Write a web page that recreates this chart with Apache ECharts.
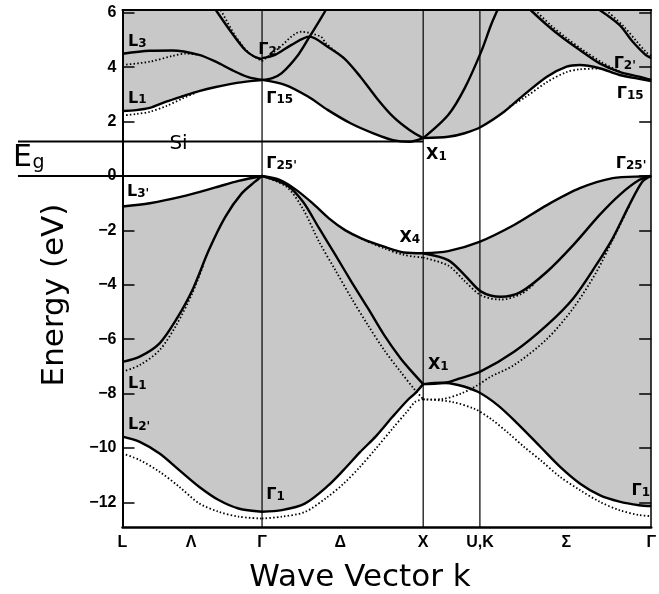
<!DOCTYPE html>
<html><head><meta charset="utf-8">
<script src="https://cdn.jsdelivr.net/npm/echarts@6/dist/echarts.min.js"></script>
<style>html,body{margin:0;padding:0;background:#fff}#c{width:659px;height:594px}</style>
</head><body><div id="c"></div>
<script>
// ---- k-path (units of 2π/a) and axis labels ----
const kPoints = [0, 0.866, 1.866, 2.218, 3.281];            // L, Γ, X, U/K, Γ
const kLabelVals = [0, 0.426, 0.866, 1.351, 1.866, 2.218, 2.754, 3.281];
const kLabelText = ['L', 'Λ', 'Γ', 'Δ', 'X', 'U,K', 'Σ', 'Γ'];
const yTicks = [-12, -10, -8, -6, -4, -2, 0, 2, 4, 6];
const yMin = -12.9, yMax = 6.1;
const eGap = 1.27;

// ---- conduction bands, solid ----
const condLG_L1 = [[0,2.39],[0.085,2.42],[0.169,2.5],[0.271,2.73],[0.373,2.93],[0.475,3.12],[0.579,3.27],[0.720,3.43],[0.866,3.53]];
const condLG_L3 = [[0,4.49],[0.169,4.6],[0.309,4.61],[0.475,4.45],[0.579,4.2],[0.677,3.9],[0.781,3.63],[0.866,3.53]];
const condLG_G2 = [[0.579,6.1],[0.679,5.25],[0.761,4.63],[0.82,4.38],[0.866,4.29]];
const condGX_D2 = [[0.866,4.33],[0.947,4.45],[1.049,4.82],[1.161,5.12],[1.273,4.75],[1.374,4.33],[1.476,3.65],[1.578,2.86],[1.679,2.18],[1.781,1.69],[1.866,1.39]];
const condGX_D5 = [[0.866,3.53],[0.93,3.6],[0.988,3.78],[1.090,4.45],[1.161,5.12],[1.212,5.61],[1.262,6.1]];
const condGX_D1 = [[0.866,3.53],[1.008,3.35],[1.151,2.92],[1.273,2.43],[1.415,1.94],[1.557,1.57],[1.679,1.32],[1.781,1.26],[1.866,1.39]];
const condXG_steep = [[1.866,1.39],[2.021,2.24],[2.123,3.22],[2.226,4.57],[2.287,5.55],[2.327,6.1]];
const condXG_low = [[1.866,1.39],[2.021,1.44],[2.123,1.57],[2.226,1.81],[2.368,2.36],[2.491,2.98],[2.634,3.65],[2.756,4.02],[2.838,4.08],[2.961,3.96],[3.084,3.71],[3.206,3.57],[3.281,3.49]];
const condXG_top1 = [[2.532,6.1],[2.634,5.55],[2.736,5.06],[2.838,4.63],[2.961,4.14],[3.084,3.83],[3.206,3.65],[3.281,3.53]];
const condXG_top2 = [[2.961,6.1],[3.084,5.55],[3.165,4.94],[3.246,4.45],[3.281,4.33]];
// ---- conduction bands, dotted ----
const condLG_L1_dot = [[0,2.22],[0.085,2.28],[0.169,2.36],[0.271,2.57],[0.373,2.85],[0.45,3.05]];
const condLG_L3_dot = [[0,4.08],[0.169,4.2],[0.309,4.41],[0.393,4.5],[0.475,4.45]];
const condLG_G2_dot = [[0.61,6.1],[0.695,5.2],[0.78,4.55],[0.866,4.22]];
const condGX_D2_dot = [[0.866,4.22],[0.968,4.69],[1.109,5.3],[1.231,5.12],[1.262,4.88],[1.374,4.33]];
const condXG_low_dot = [[2.40,2.55],[2.491,2.86],[2.634,3.45],[2.756,3.82],[2.838,3.92],[2.961,3.95]];
const condXG_top1_dot = [[2.56,6.1],[2.66,5.53],[2.76,5.05],[2.86,4.62],[2.98,4.16],[3.084,3.85]];
const condXG_top2_dot = [[3.00,6.1],[3.11,5.5],[3.19,4.95],[3.25,4.55],[3.281,4.42]];

// ---- valence bands, solid ----
const valLG_L3 = [[0,-1.12],[0.169,-1.0],[0.373,-0.75],[0.577,-0.42],[0.720,-0.18],[0.866,0]];
const valLG_L1 = [[0,-6.83],[0.107,-6.64],[0.230,-6.15],[0.332,-5.29],[0.434,-4.19],[0.536,-2.72],[0.638,-1.5],[0.740,-0.64],[0.822,-0.21],[0.866,0]];
const valLG_L2 = [[0,-9.58],[0.107,-9.77],[0.230,-10.2],[0.352,-10.81],[0.475,-11.42],[0.597,-11.91],[0.720,-12.22],[0.866,-12.34]];
const valGX_top = [[0.866,0],[0.978,-0.15],[1.078,-0.51],[1.179,-1.0],[1.281,-1.56],[1.381,-1.99],[1.482,-2.29],[1.624,-2.6],[1.745,-2.81],[1.866,-2.84]];
const valGX_D2 = [[0.866,0],[1.018,-0.33],[1.119,-0.94],[1.220,-1.92],[1.321,-2.9],[1.422,-3.9],[1.523,-4.86],[1.624,-5.85],[1.725,-6.7],[1.797,-7.2],[1.866,-7.65]];
const valGX_low = [[0.866,-12.34],[0.989,-12.28],[1.131,-12.04],[1.272,-11.4],[1.373,-10.8],[1.474,-10.15],[1.575,-9.55],[1.676,-8.85],[1.767,-8.25],[1.817,-7.98],[1.866,-7.65]];
const valXG_top = [[1.866,-2.84],[2.021,-2.76],[2.215,-2.42],[2.430,-1.8],[2.634,-1.07],[2.838,-0.45],[3.042,-0.08],[3.246,-0.01],[3.281,0]];
const valXG_2 = [[1.866,-2.84],[2.021,-3.09],[2.123,-3.64],[2.226,-4.25],[2.348,-4.44],[2.470,-4.27],[2.634,-3.52],[2.797,-2.54],[2.961,-1.43],[3.084,-0.70],[3.206,-0.15],[3.281,0]];
const valXG_3 = [[1.866,-7.65],[1.95,-7.63],[2.021,-7.58],[2.083,-7.46],[2.226,-7.17],[2.430,-6.46],[2.634,-5.48],[2.797,-4.5],[2.940,-3.27],[3.042,-2.29],[3.145,-1.07],[3.226,-0.21],[3.281,0]];
const valXG_low = [[1.866,-7.65],[1.981,-7.6],[2.083,-7.68],[2.205,-7.93],[2.328,-8.42],[2.450,-9.09],[2.593,-9.95],[2.716,-10.69],[2.838,-11.3],[2.961,-11.73],[3.084,-11.97],[3.206,-12.1],[3.281,-12.13]];
// ---- valence bands, dotted ----
const valLG_L1_dot = [[0,-7.19],[0.107,-6.95],[0.230,-6.4],[0.332,-5.5],[0.434,-4.3],[0.5,-3.3]];
const valLG_L2_dot = [[0,-10.2],[0.107,-10.44],[0.230,-10.87],[0.352,-11.42],[0.475,-12.03],[0.597,-12.34],[0.720,-12.52],[0.866,-12.59]];
const valGX_top_dot = [[1.482,-2.31],[1.624,-2.66],[1.745,-2.9],[1.866,-3.0]];
const valGX_D2_dot = [[0.866,0],[1.018,-0.4],[1.119,-1.2],[1.220,-2.42],[1.321,-3.46],[1.422,-4.5],[1.523,-5.48],[1.624,-6.4],[1.725,-7.19],[1.806,-7.8],[1.866,-8.2]];
const valGX_low_dot = [[0.866,-12.59],[0.989,-12.52],[1.131,-12.35],[1.272,-11.8],[1.373,-11.3],[1.474,-10.69],[1.575,-10.0],[1.676,-9.28],[1.767,-8.65],[1.817,-8.3],[1.866,-8.2]];
const valXG_2_dot = [[1.866,-3.0],[2.021,-3.29],[2.123,-3.86],[2.226,-4.39],[2.348,-4.54],[2.470,-4.35],[2.56,-3.95]];
const valXG_3_dot = [[1.866,-8.22],[1.98,-8.2],[2.10,-8.0],[2.20,-7.7],[2.284,-7.38],[2.430,-6.95],[2.634,-5.99],[2.797,-4.86],[2.940,-3.54],[3.042,-2.35],[3.145,-1.1]];
const valXG_low_dot = [[1.866,-8.2],[2.042,-8.3],[2.185,-8.56],[2.287,-8.93],[2.389,-9.42],[2.491,-9.95],[2.593,-10.44],[2.716,-11.06],[2.838,-11.54],[2.961,-11.97],[3.084,-12.28],[3.206,-12.46],[3.281,-12.5]];

// ---- point-label annotations (data coords) ----
const annoK = [0.034, 0.034, 0.843, 0.892, 0.892, 0.028, 1.884, 3.048, 3.067, 3.061, 1.719, 1.896, 0.034, 0.034, 0.892, 3.159];
const annoE = [4.96, 2.89, 4.67, 2.89, 0.50, -0.55, 0.81, 4.17, 3.07, 0.50, -2.23, -6.91, -7.61, -9.12, -11.69, -11.54];
const annoBase = ['L','L','Γ','Γ','Γ','L','X','Γ','Γ','Γ','X','X','L','L','Γ','Γ'];
const annoSub = ['3','1',"2'",'15',"25'","3'",'1',"2'",'15',"25'",'4','1','1',"2'",'1','1'];
const siLabel = {k: 0.291, e: 1.19, text: 'Si'};

// ---- styling ----
const GRAY = '#c8c8c8';
const INK = '#000';
const SM = 0.3;
const FONT = 'DejaVu Sans';

const series = [];
function fill(data, color, origin, z) {
  series.push({type: 'line', data, smooth: SM, symbol: 'none', silent: true,
    lineStyle: {width: 0}, areaStyle: {color, opacity: 1, origin}, z});
}
[valLG_L3, valGX_top, valXG_top].forEach(d => fill(d, GRAY, 'start', 1));
[condLG_L1, condGX_D1, condXG_low].forEach(d => fill(d, GRAY, 'end', 1));
[valLG_L2, valGX_low, valXG_low].forEach(d => fill(d, '#ffffff', 'start', 2));

// k-point vertical lines
kPoints.slice(1, 4).forEach(k => series.push({type: 'line', data: [[k, yMin], [k, yMax]], symbol: 'none', silent: true,
  lineStyle: {color: '#000', width: 1.2}, z: 3}));

const solid = [condLG_L1, condLG_L3, condLG_G2, condGX_D2, condGX_D5, condGX_D1, condXG_steep, condXG_low, condXG_top1, condXG_top2,
  valLG_L3, valLG_L1, valLG_L2, valGX_top, valGX_D2, valGX_low, valXG_top, valXG_2, valXG_3, valXG_low];
const dotted = [condLG_L1_dot, condLG_L3_dot, condLG_G2_dot, condGX_D2_dot, condXG_low_dot, condXG_top1_dot, condXG_top2_dot,
  valLG_L1_dot, valLG_L2_dot, valGX_top_dot, valGX_D2_dot, valGX_low_dot, valXG_2_dot, valXG_3_dot, valXG_low_dot];
solid.forEach(d => series.push({type: 'line', data: d, smooth: SM, symbol: 'none', silent: true,
  lineStyle: {color: INK, width: 2.4}, z: 4}));
dotted.forEach(d => series.push({type: 'line', data: d, smooth: SM, symbol: 'none', silent: true,
  lineStyle: {color: INK, width: 1.8, type: [1.5, 2.2]}, z: 4}));

// labels
const labelData = annoK.map((k, i) => ({value: [k, annoE[i]],
  label: {formatter: '{b|' + annoBase[i] + '}{s|' + annoSub[i] + '}'}}));
labelData.push({value: [siLabel.k, siLabel.e], label: {formatter: '{si|' + siLabel.text + '}'}});
series.push({type: 'scatter', data: labelData, symbolSize: 0, silent: true, z: 6, clip: false,
  itemStyle: {opacity: 1, color: INK},
  label: {show: true, position: 'right', distance: 0, color: INK, opacity: 1,
    rich: {
      b: {fontSize: 16, fontFamily: FONT, fontWeight: 'bold', color: INK, lineHeight: 18, verticalAlign: 'bottom'},
      s: {fontSize: 12, fontFamily: FONT, fontWeight: 'bold', color: INK, lineHeight: 8, verticalAlign: 'bottom'},
      si: {fontSize: 20, fontFamily: FONT, color: INK, lineHeight: 22}
    }}});

const chart = echarts.init(document.getElementById('c'), null, {renderer: 'canvas', width: 659, height: 594});
const option = {
  animation: false,
  backgroundColor: '#fff',
  grid: {left: 122.5, top: 10, width: 535.5, height: 517},
  xAxis: [
    {type: 'value', min: 0, max: kPoints[4], position: 'bottom', z: 10,
      axisLine: {onZero: false, lineStyle: {color: INK, width: 2.5}},
      axisTick: {show: false}, splitLine: {show: false},
      axisLabel: {customValues: kLabelVals, margin: 8, fontSize: 16, fontWeight: 'bold', fontFamily: 'Liberation Sans', color: INK,
        formatter: v => { let best = 0; kLabelVals.forEach((kv, i) => { if (Math.abs(kv - v) < Math.abs(kLabelVals[best] - v)) best = i; }); return kLabelText[best]; }}},
    {type: 'value', min: 0, max: kPoints[4], position: 'top', z: 10,
      axisLine: {onZero: false, lineStyle: {color: INK, width: 2}},
      axisTick: {show: false}, axisLabel: {show: false}, splitLine: {show: false}}
  ],
  yAxis: [
    {type: 'value', min: yMin, max: yMax, position: 'left', z: 10,
      axisLine: {onZero: false, lineStyle: {color: INK, width: 2}},
      axisTick: {inside: true, length: 12, customValues: yTicks, lineStyle: {color: INK, width: 1.5}},
      axisLabel: {customValues: yTicks, margin: 6, fontSize: 16, fontWeight: 'bold', fontFamily: 'Liberation Sans', color: INK,
        formatter: v => v < 0 ? '\u2212' + (-v) : String(v)},
      splitLine: {show: false}},
    {type: 'value', min: yMin, max: yMax, position: 'right', z: 10,
      axisLine: {onZero: false, lineStyle: {color: INK, width: 1.5}},
      axisTick: {inside: true, length: 12, customValues: yTicks, lineStyle: {color: INK, width: 1.5}},
      axisLabel: {show: false}, splitLine: {show: false}}
  ],
  series
};
chart.setOption(option);

const P = (k, e) => chart.convertToPixel({xAxisIndex: 0, yAxisIndex: 0}, [k, e]);
const pUp = P(kPoints[2], eGap), pLow = P(kPoints[1], 0);
chart.setOption({graphic: [
  {type: 'line', z: 100, shape: {x1: 18, y1: pUp[1], x2: pUp[0], y2: pUp[1]}, style: {stroke: INK, lineWidth: 2}},
  {type: 'line', z: 100, shape: {x1: 18, y1: pLow[1], x2: pLow[0], y2: pLow[1]}, style: {stroke: INK, lineWidth: 2}},
  {type: 'text', z: 100, x: 13, y: 158, style: {text: 'E', fontSize: 30, fontFamily: FONT, fill: INK, align: 'left', verticalAlign: 'middle'}},
  {type: 'text', z: 100, x: 32.5, y: 163, style: {text: 'g', fontSize: 19, fontFamily: FONT, fill: INK, align: 'left', verticalAlign: 'middle'}},
  {type: 'text', z: 100, x: 360, y: 578, style: {text: 'Wave Vector k', fontSize: 31, fontFamily: FONT, fill: INK, align: 'center', verticalAlign: 'middle'}},
  {type: 'text', z: 100, x: 55, y: 295, rotation: Math.PI / 2, style: {text: 'Energy (eV)', fontSize: 31, fontFamily: FONT, fill: INK, align: 'center', verticalAlign: 'middle'}}
]});
</script>
</body></html>
